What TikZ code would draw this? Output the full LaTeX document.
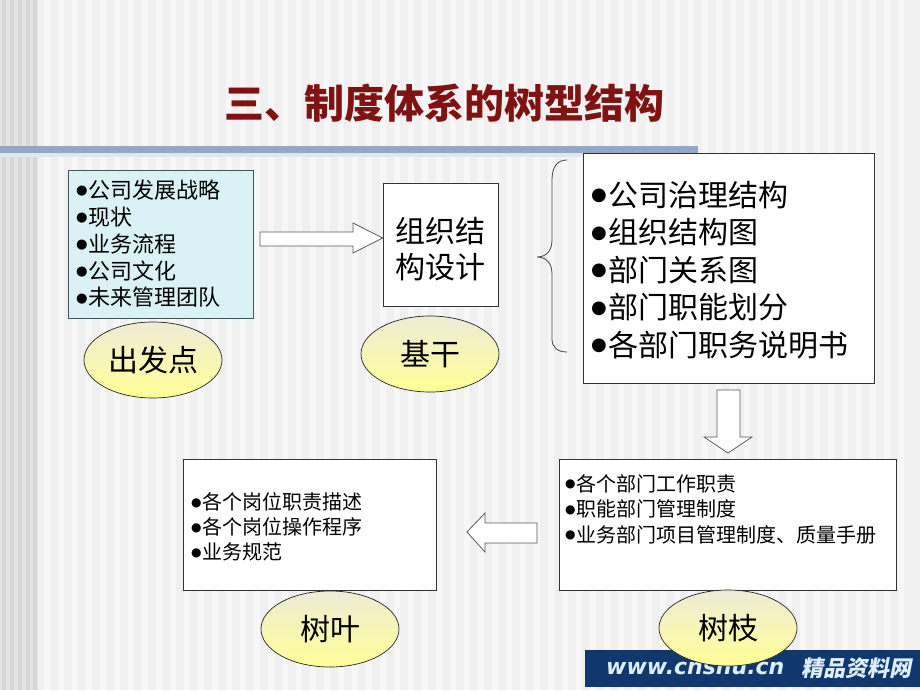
\documentclass[tikz,border=0pt]{standalone}
\usepackage{fontspec}
\setmainfont{Noto Sans CJK SC}
\newfontfamily\dv{DejaVu Sans}
\newfontfamily\cjksl{Noto Sans CJK SC}[FakeSlant=0.2]
\usetikzlibrary{shapes.geometric}
\definecolor{bgc}{RGB}{240,240,240}
\definecolor{bgl}{RGB}{247,247,247}
\definecolor{bgd}{RGB}{214,214,214}
\definecolor{bgm}{RGB}{228,228,228}
\definecolor{barblue}{RGB}{146,168,198}
\definecolor{barlight}{RGB}{222,232,244}
\definecolor{titlered}{RGB}{128,18,18}
\definecolor{cyanfill}{RGB}{218,242,245}
\definecolor{cyanline}{RGB}{60,88,90}
\definecolor{ovaltop}{RGB}{238,236,214}
\definecolor{ovalbot}{RGB}{255,255,150}
\definecolor{navy}{RGB}{16,56,110}
\definecolor{wmtext}{RGB}{222,238,255}
\newcommand{\bu}{\raisebox{0.18em}{\scalebox{0.6}{\dv ●}}\hspace{0.04em}}
\begin{document}
\begin{tikzpicture}[x=1pt,y=-1pt,
  box/.style={draw=black!80, line width=0.8pt, fill=white, rectangle, inner sep=0pt},
  oval/.style={ellipse, draw=black!85, line width=0.7pt, top color=ovaltop, bottom color=ovalbot,
    minimum width=138pt, minimum height=76pt, inner sep=0pt, font=\fontsize{30}{36}\selectfont},
  blockarrow/.style={draw=black!65, line width=0.8pt, fill=white, line join=miter},
  listtext/.style={anchor=west, align=left, inner sep=0pt}]
\useasboundingbox (0,0) rectangle (920,690);
% background
\fill[bgc] (0,0) rectangle (920,690);
\foreach \x in {44,58,...,910} \fill[bgl] (\x,0) rectangle (\x+6,690);
\fill[bgm] (0,0) rectangle (38,690);
\foreach \x in {2,10,18,26,33} \fill[bgd] (\x,0) rectangle (\x+4,690);
% title
\node[font=\fontsize{40}{44}\selectfont\bfseries, text=titlered] (title) at (444,103) {三、制度体系的树型结构};
% bar
\fill[barblue] (0,146) rectangle (698,153);
\fill[barlight] (0,153) rectangle (698,157);
% top-left box
\node[box, fill=cyanfill, draw=cyanline, minimum width=185pt, minimum height=148pt] (src) at (160.5,244) {};
\node[listtext, font=\fontsize{22}{26.8}\selectfont] (srct) at (76,244)
  {\bu 公司发展战略\\\bu 现状\\\bu 业务流程\\\bu 公司文化\\\bu 未来管理团队};
% org design box
\node[box, minimum width=115pt, minimum height=123pt] (org) at (440.5,244.5) {};
\node[align=center, inner sep=0pt, font=\fontsize{30}{36}\selectfont] (orgt) at (440.5,249) {组织结\\构设计};
% big box
\node[box, minimum width=291pt, minimum height=230pt] (big) at (728.5,268) {};
\node[listtext, font=\fontsize{30}{37.5}\selectfont] (bigt) at (591,270)
  {\bu 公司治理结构\\\bu 组织结构图\\\bu 部门关系图\\\bu 部门职能划分\\\bu 各部门职务说明书};
% brace
\draw[black!75, line width=0.8pt] (567,160) .. controls (557,160) and (552,167) .. (552,180)
  -- (552,240) .. controls (552,251) and (546,257) .. (537,257)
  .. controls (546,257) and (552,263) .. (552,274)
  -- (552,339) .. controls (552,347) and (557,352) .. (567,352);
% bottom-right box
\node[box, minimum width=337pt, minimum height=131pt] (branch) at (727.5,524.5) {};
\node[listtext, font=\fontsize{20}{25.5}\selectfont] (brancht) at (565,509)
  {\bu 各个部门工作职责\\\bu 职能部门管理制度\\\bu 业务部门项目管理制度、质量手册};
% bottom-left box
\node[box, minimum width=253pt, minimum height=131pt] (leaf) at (309.5,524.5) {};
\node[listtext, font=\fontsize{20}{25}\selectfont] (leaft) at (191,527)
  {\bu 各个岗位职责描述\\\bu 各个岗位操作程序\\\bu 业务规范};
% block arrows
\draw[blockarrow] (260,232) -- (353,232) -- (353,223) -- (org.west |- 0,238) -- (353,253) -- (353,246) -- (260,246) -- cycle;
\draw[blockarrow] (717,390) -- (740,390) -- (740,437) -- (752,437) -- (728,453) -- (704,437) -- (717,437) -- cycle;
\draw[blockarrow] (537,523) -- (485,523) -- (485,513) -- (467,532) -- (485,552) -- (485,543) -- (537,543) -- cycle;
% ovals
\node[oval] (start) at (153,360) {出发点};
\node[oval] (trunk) at (430,354) {基干};
\node[oval] (leaves) at (330,629) {树叶};
% watermark
\fill[navy] (585,650) rectangle (920,687);
\node[anchor=west, inner sep=0pt, text=wmtext, font=\dv\bfseries\itshape\fontsize{22}{24}\selectfont] (wm1) at (606,668) {www.cnsnu.cn};
\node[anchor=west, inner sep=0pt, text=wmtext, font=\cjksl\bfseries\fontsize{22}{24}\selectfont] (wm2) at (801,668) {精品资料网};
\node[oval] (twigs) at (728,628) {树枝};
\end{tikzpicture}
\end{document}
